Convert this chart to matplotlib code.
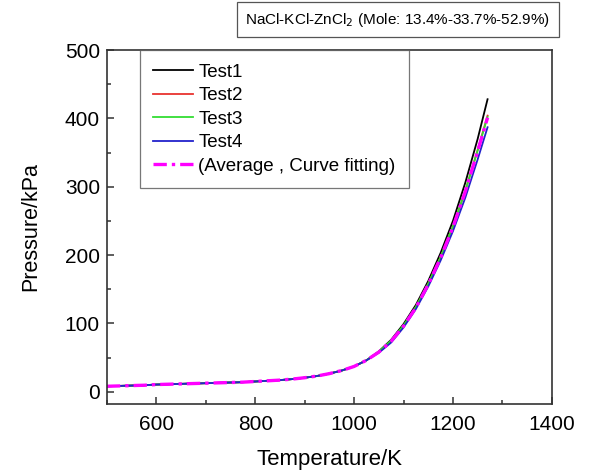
import matplotlib
matplotlib.use("Agg")
import matplotlib.pyplot as plt
from matplotlib.ticker import MultipleLocator

plt.rcParams['font.family'] = ['Liberation Sans', 'DejaVu Sans']

# temperature grid (K)
temp = [500, 525, 550, 575, 600, 625, 650, 675, 700, 725, 750, 775, 800, 825,
        850, 875, 900, 925, 950, 975, 1000, 1025, 1050, 1075, 1100, 1125,
        1150, 1175, 1200, 1225, 1250, 1270]

# low-temperature part is common to every run (kPa)
low = [8, 8.5, 9, 9.5, 10.5, 11, 11.5, 12, 12.5, 13, 13.5, 14, 15, 16,
       17, 18.5, 20.5, 23, 26.5, 31, 37, 46]

# high-temperature part, 1050 K onwards
test1_hi = [59, 76, 99, 127, 162, 203, 250, 306, 370, 428]
test2_hi = [58, 74, 96, 124, 158, 197, 242, 294, 354, 404]
test3_hi = [58.5, 75, 97, 124, 158, 197, 242, 294, 353, 402]
test4_hi = [57, 72, 94, 121, 154, 192, 235, 284, 340, 387]
avg_hi = [58, 74, 96, 123, 157, 196, 241, 293, 352, 401]

test1 = low + test1_hi
test2 = low + test2_hi
test3 = low + test3_hi
test4 = low + test4_hi
average = low + avg_hi

fig = plt.figure(figsize=(5.94, 4.72), dpi=100)
ax = fig.add_axes([0.180, 0.144, 0.749, 0.750])

ax.plot(temp, test1, color='black', lw=1.3, label='Test1')
ax.plot(temp, test2, color='#e8332f', lw=1.3, label='Test2')
ax.plot(temp, test3, color='#33dd33', lw=1.3, label='Test3')
ax.plot(temp, test4, color='#2222cc', lw=1.3, label='Test4')
ax.plot(temp, average, color='#ff00ff', lw=2.4, ls=(0, (4, 1.5, 1, 1.5)),
        label='(Average , Curve fitting)')

ax.set_xlim(500, 1400)
ax.set_ylim(-18, 500)
ax.xaxis.set_major_locator(MultipleLocator(200))
ax.xaxis.set_minor_locator(MultipleLocator(100))
ax.yaxis.set_major_locator(MultipleLocator(100))
ax.yaxis.set_minor_locator(MultipleLocator(50))
ax.tick_params(which='both', direction='in', top=False, right=False,
               labelsize=15, color='#333333', width=1.1)
ax.tick_params(which='major', length=5)
ax.tick_params(which='minor', length=3)
ax.tick_params(axis='x', which='major', pad=8)
ax.tick_params(axis='y', which='major', pad=5)
for s in ax.spines.values():
    s.set_color('#333333')
    s.set_linewidth(1.2)

ax.set_xlabel('Temperature/K', fontsize=16, labelpad=11)
ax.set_ylabel('Pressure/kPa', fontsize=15.5, labelpad=17)

leg = ax.legend(loc='upper left', bbox_to_anchor=(0.074, 1.0), fontsize=13.5,
                frameon=True, fancybox=False, edgecolor='#555555',
                handlelength=2.1, handletextpad=0.3, labelspacing=0.34,
                borderpad=0.72, borderaxespad=0)
leg.get_frame().set_linewidth(0.9)

fig.text(0.67, 0.958, 'NaCl-KCl-ZnCl$_2$ (Mole: 13.4%-33.7%-52.9%)',
         ha='center', va='center', fontsize=11,
         bbox=dict(boxstyle='square,pad=0.55', facecolor='white',
                   edgecolor='#555555', linewidth=0.9))

fig.savefig('out.png', dpi=100)
